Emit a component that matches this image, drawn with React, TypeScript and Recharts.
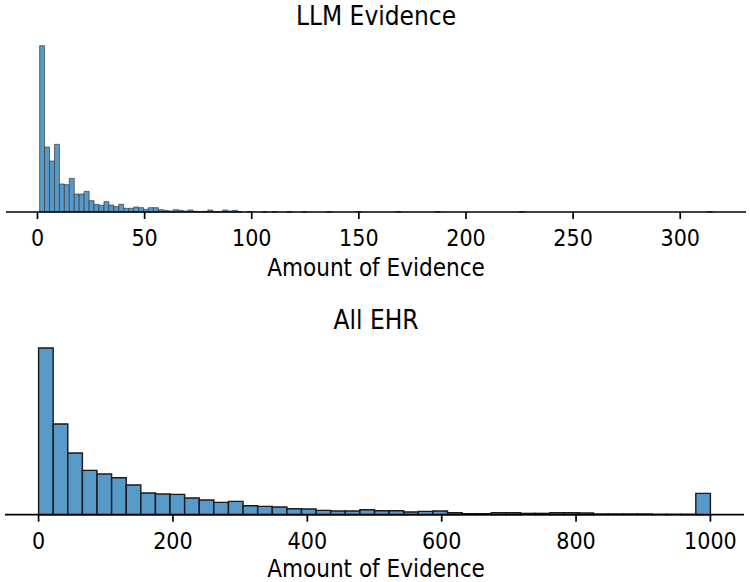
import React from "react";
import { ComposedChart, XAxis, YAxis, Line, ReferenceArea } from "recharts";

// ---------- data ----------
const topTitle = "LLM Evidence";
const bottomTitle = "All EHR";
const xLabel = "Amount of Evidence";

// LLM evidence histogram: 136 bins from 1 to 315
const topMin = 1;
const topMax = 315;
const topCounts = [
  499, 195, 153, 203, 84, 82, 101, 54, 54, 62,
  34, 23, 20, 31, 21, 16, 23, 11, 11, 15,
  13, 8, 13, 13, 7, 5, 3, 7, 5, 3,
  6, 2, 1, 2, 6, 1, 1, 6, 3, 5,
  1, 0, 1, 0, 0, 1, 0, 1, 0, 0,
  1, 0, 0, 1, 0, 0, 0, 0, 1, 0,
  0, 0, 0, 0, 1, 0, 0, 0, 0, 0,
  0, 0, 1, 0, 0, 0, 0, 0, 0, 0,
  1, 0, 0, 0, 0, 0, 0, 0, 0, 0,
  0, 0, 0, 0, 0, 0, 0, 1, 0, 0,
  0, 0, 0, 0, 0, 0, 0, 0, 0, 0,
  0, 0, 0, 0, 0, 0, 0, 0, 0, 0,
  0, 0, 0, 0, 0, 0, 0, 0, 0, 0,
  0, 0, 0, 0, 0, 1,
];
const topTicks = [0, 50, 100, 150, 200, 250, 300];

// All EHR histogram: 46 bins from 0 to 1000
const bottomMin = 0;
const bottomMax = 1000;
const bottomCounts = [
  500, 272, 185, 133, 122, 111, 89, 65, 62, 61,
  50, 44, 37, 40, 27, 25, 23, 18, 17, 13,
  11, 11, 15, 12, 12, 8, 10, 11, 6, 3,
  3, 6, 6, 4, 4, 6, 6, 5, 2, 2,
  2, 2, 1, 1, 1, 64,
];
const bottomTicks = [0, 200, 400, 600, 800, 1000];

// ---------- styles ----------
const FONT = "'DejaVu Sans Condensed', 'DejaVu Sans', 'Liberation Sans', sans-serif";
const FILL = "#5799c9";

type PanelProps = {
  counts: number[];
  min: number;
  max: number;
  ticks: number[];
  top: number;
  marginTop: number;
  marginBottom: number;
  left: number;
  right: number;
  edge: string;
  edgeWidth: number;
};

function Panel(p: PanelProps) {
  const n = p.counts.length;
  const w = (p.max - p.min) / n;
  const data = p.counts.map((c, i) => ({
    x0: p.min + i * w,
    x1: p.min + (i + 1) * w,
    x: p.min + (i + 0.5) * w,
    count: c,
  }));
  const span = p.max - p.min;
  const domain = [p.min - 0.05 * span, p.max + 0.05 * span];
  const maxC = Math.max(...p.counts);
  return (
    <div style={{ position: "absolute", left: 0, top: p.top }}>
      <ComposedChart
        width={750}
        height={291}
        data={data}
        margin={{ top: p.marginTop, right: p.right, bottom: p.marginBottom, left: p.left }}
      >
        <XAxis
          dataKey="x"
          type="number"
          domain={domain}
          ticks={p.ticks}
          allowDataOverflow
          height={40}
          tickSize={7}
          tickMargin={11}
          axisLine={{ stroke: "#000", strokeWidth: 1.7 }}
          tickLine={{ stroke: "#000", strokeWidth: 1.7 }}
          tick={{ fill: "#000", fontSize: 23, fontFamily: FONT, fontStretch: "condensed" }}
          interval={0}
        />
        <YAxis hide type="number" domain={[0, maxC * 1.05]} allowDataOverflow />
        {data.map((d, i) => (
          <ReferenceArea
            key={i}
            x1={d.x0}
            x2={d.x1}
            y1={0}
            y2={d.count}
            fill={FILL}
            fillOpacity={1}
            stroke={p.edge}
            strokeWidth={p.edgeWidth}
            ifOverflow="visible"
          />
        ))}
        <Line dataKey="count" stroke="none" dot={false} activeDot={false} isAnimationActive={false} />
      </ComposedChart>
    </div>
  );
}

function TextLine({ text, cy, size }: { text: string; cy: number; size: number }) {
  return (
    <div
      style={{
        position: "absolute",
        left: 0,
        width: 752,
        top: cy - size / 2,
        height: size,
        lineHeight: `${size}px`,
        fontSize: size,
        fontFamily: FONT,
        fontStretch: "condensed",
        textAlign: "center",
        color: "#000",
        whiteSpace: "nowrap",
      }}
    >
      {text}
    </div>
  );
}

export default function App() {
  return (
    <div
      style={{
        position: "absolute",
        left: 0,
        top: 0,
        width: 750,
        height: 582,
        background: "#fff",
        overflow: "hidden",
      }}
    >
      <Panel
        counts={topCounts}
        min={topMin}
        max={topMax}
        ticks={topTicks}
        top={0}
        marginTop={37.4}
        marginBottom={39}
        left={6}
        right={4}
        edge="#3a3a3a"
        edgeWidth={0.7}
      />
      <Panel
        counts={bottomCounts}
        min={bottomMin}
        max={bottomMax}
        ticks={bottomTicks}
        top={291}
        marginTop={48.7}
        marginBottom={27.3}
        left={5}
        right={6}
        edge="#1a1a1a"
        edgeWidth={1.4}
      />
      <TextLine text={topTitle} cy={16} size={26} />
      <TextLine text={xLabel} cy={268} size={24} />
      <TextLine text={bottomTitle} cy={320} size={26} />
      <TextLine text={xLabel} cy={569} size={24} />
    </div>
  );
}
